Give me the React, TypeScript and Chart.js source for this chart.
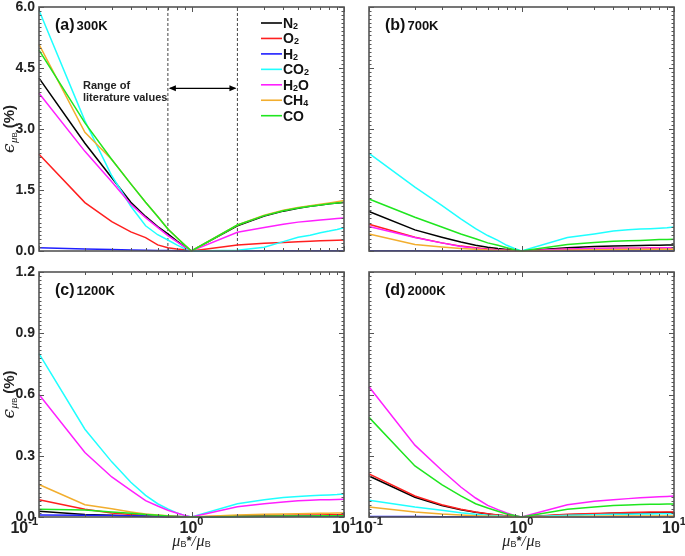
import React, { useEffect, useRef } from "react";
import { Chart, registerables } from "chart.js";

Chart.register(...registerables);

// ---------- data ----------
const X = [0.1, 0.2, 0.3, 0.4, 0.5, 0.6, 0.7, 0.8, 0.9, 1, 2, 3, 4, 5, 6, 7, 8, 9, 10];
const SPECIES = ["N2", "O2", "H2", "CO2", "H2O", "CH4", "CO"];
const COLORS = ["#000000", "#ff1f1f", "#1f1fff", "#1fffff", "#ff1fff", "#f2ae2e", "#1fe61f"];

// 300 K
const N2_300K = [4.25, 2.65, 1.8, 1.2, 0.85, 0.6, 0.42, 0.25, 0.11, 0, 0.62, 0.86, 0.98, 1.05, 1.1, 1.13, 1.16, 1.18, 1.19];
const O2_300K = [2.38, 1.19, 0.72, 0.47, 0.33, 0.15, 0.08, 0.05, 0.03, 0, 0.15, 0.19, 0.21, 0.23, 0.24, 0.25, 0.26, 0.265, 0.27];
const H2_300K = [0.08, 0.05, 0.035, 0.025, 0.02, 0.015, 0.01, 0.007, 0.003, 0, 0.003, 0.004, 0.005, 0.005, 0.005, 0.005, 0.005, 0.005, 0.005];
const CO2_300K = [5.92, 3.2, 1.85, 1.1, 0.62, 0.4, 0.27, 0.15, 0.06, 0, 0.02, 0.09, 0.23, 0.34, 0.39, 0.45, 0.49, 0.53, 0.57];
const H2O_300K = [3.88, 2.45, 1.7, 1.15, 0.82, 0.58, 0.38, 0.23, 0.1, 0, 0.46, 0.58, 0.66, 0.71, 0.74, 0.76, 0.78, 0.8, 0.81];
const CH4_300K = [5.08, 2.92, 2.25, 1.65, 1.2, 0.85, 0.54, 0.33, 0.15, 0, 0.64, 0.88, 1.0, 1.07, 1.11, 1.15, 1.18, 1.21, 1.24];
const CO_300K = [4.94, 3.15, 2.25, 1.65, 1.2, 0.85, 0.54, 0.33, 0.15, 0, 0.64, 0.87, 0.99, 1.06, 1.1, 1.13, 1.16, 1.18, 1.2];

// 700 K
const N2_700K = [0.97, 0.52, 0.34, 0.22, 0.14, 0.09, 0.06, 0.04, 0.02, 0, 0.08, 0.11, 0.12, 0.13, 0.135, 0.14, 0.14, 0.145, 0.15];
const O2_700K = [0.66, 0.34, 0.2, 0.12, 0.08, 0.05, 0.03, 0.02, 0.01, 0, 0.05, 0.06, 0.065, 0.07, 0.07, 0.075, 0.075, 0.08, 0.08];
const H2_700K = [0.006, 0.004, 0.003, 0.002, 0.002, 0.001, 0.001, 0.001, 0, 0, 0.001, 0.001, 0.001, 0.001, 0.001, 0.001, 0.001, 0.001, 0.001];
const CO2_700K = [2.4, 1.57, 1.12, 0.79, 0.55, 0.38, 0.26, 0.14, 0.06, 0, 0.33, 0.42, 0.49, 0.52, 0.54, 0.55, 0.56, 0.57, 0.59];
const H2O_700K = [0.6, 0.33, 0.2, 0.11, 0.07, 0.04, 0.025, 0.015, 0.007, 0, 0.05, 0.06, 0.065, 0.07, 0.07, 0.075, 0.075, 0.078, 0.08];
const CH4_700K = [0.42, 0.16, 0.1, 0.06, 0.04, 0.025, 0.015, 0.01, 0.005, 0, 0.02, 0.03, 0.035, 0.04, 0.04, 0.04, 0.045, 0.045, 0.045];
const CO_700K = [1.28, 0.83, 0.59, 0.42, 0.3, 0.2, 0.14, 0.08, 0.03, 0, 0.16, 0.21, 0.24, 0.25, 0.26, 0.27, 0.28, 0.285, 0.29];

// 1200 K
const N2_1200K = [0.028, 0.012, 0.008, 0.005, 0.003, 0.002, 0.001, 0.001, 0.0005, 0, 0.003, 0.004, 0.004, 0.005, 0.005, 0.005, 0.005, 0.005, 0.005];
const O2_1200K = [0.085, 0.038, 0.02, 0.012, 0.008, 0.005, 0.003, 0.002, 0.001, 0, 0.006, 0.008, 0.009, 0.01, 0.01, 0.01, 0.011, 0.011, 0.011];
const H2_1200K = [0.01, 0.008, 0.007, 0.006, 0.005, 0.004, 0.003, 0.002, 0.001, 0, 0.002, 0.003, 0.003, 0.004, 0.004, 0.004, 0.004, 0.004, 0.004];
const CO2_1200K = [0.8, 0.43, 0.27, 0.17, 0.106, 0.065, 0.04, 0.02, 0.008, 0, 0.065, 0.085, 0.095, 0.1, 0.104, 0.106, 0.108, 0.11, 0.113];
const H2O_1200K = [0.6, 0.316, 0.196, 0.13, 0.08, 0.054, 0.033, 0.02, 0.008, 0, 0.05, 0.065, 0.074, 0.079, 0.082, 0.084, 0.085, 0.086, 0.087];
const CH4_1200K = [0.159, 0.06, 0.04, 0.025, 0.015, 0.01, 0.006, 0.003, 0.001, 0, 0.01, 0.013, 0.015, 0.016, 0.017, 0.018, 0.018, 0.019, 0.019];
const CO_1200K = [0.038, 0.034, 0.025, 0.018, 0.012, 0.008, 0.005, 0.003, 0.001, 0, 0.003, 0.004, 0.005, 0.005, 0.005, 0.006, 0.006, 0.006, 0.006];

// 2000 K
const N2_2000K = [0.201, 0.097, 0.056, 0.035, 0.023, 0.015, 0.009, 0.005, 0.002, 0, 0.011, 0.015, 0.018, 0.019, 0.02, 0.021, 0.021, 0.022, 0.022];
const O2_2000K = [0.211, 0.103, 0.06, 0.038, 0.025, 0.016, 0.01, 0.006, 0.003, 0, 0.013, 0.017, 0.02, 0.022, 0.023, 0.024, 0.024, 0.025, 0.025];
const H2_2000K = [0.002, 0.002, 0.001, 0.001, 0.001, 0.001, 0.001, 0.0005, 0.0005, 0, 0.001, 0.001, 0.001, 0.001, 0.001, 0.001, 0.001, 0.001, 0.001];
const CO2_2000K = [0.082, 0.049, 0.033, 0.021, 0.014, 0.009, 0.006, 0.003, 0.001, 0, 0.008, 0.011, 0.013, 0.014, 0.015, 0.015, 0.016, 0.016, 0.016];
const H2O_2000K = [0.638, 0.352, 0.229, 0.147, 0.093, 0.057, 0.036, 0.02, 0.008, 0, 0.06, 0.077, 0.085, 0.09, 0.094, 0.097, 0.099, 0.101, 0.103];
const CH4_2000K = [0.049, 0.025, 0.015, 0.01, 0.006, 0.004, 0.002, 0.001, 0.0005, 0, 0.003, 0.004, 0.005, 0.005, 0.005, 0.005, 0.005, 0.005, 0.005];
const CO_2000K = [0.488, 0.25, 0.159, 0.103, 0.065, 0.044, 0.028, 0.015, 0.007, 0, 0.038, 0.049, 0.056, 0.059, 0.061, 0.062, 0.063, 0.064, 0.064];

// axes / annotation
const X_TICKS = [0.1, 1, 10];
const X_TICK_EXP = ["-1", "0", "1"];
const Y_MAX_TOP = 6;
const Y_MAX_BOTTOM = 1.2;
const Y_MAJOR_TOP = 1.5;
const Y_MAJOR_BOTTOM = 0.3;
const RANGE_X = [0.7, 2];
const ARROW_Y = 4.0;
const PANEL_TAGS = ["(a)", "(b)", "(c)", "(d)"];
const PANEL_TEMPS = ["300K", "700K", "1200K", "2000K"];

// ---------- layout ----------
const W = 685;
const H = 556;
const SANS = "'Liberation Sans', Arial, Helvetica, sans-serif";

type Panel = {
  area: [number, number, number, number];
  yMax: number;
  yMajor: number;
  series: number[][];
  tag: string;
  temp: string;
  leftLabels: boolean;
  bottomLabels: boolean;
  legend: boolean;
  range: boolean;
};

const PANELS: Panel[] = [
  { area: [39, 7, 344, 251], yMax: Y_MAX_TOP, yMajor: Y_MAJOR_TOP, series: [N2_300K, O2_300K, H2_300K, CO2_300K, H2O_300K, CH4_300K, CO_300K], tag: PANEL_TAGS[0], temp: PANEL_TEMPS[0], leftLabels: true, bottomLabels: false, legend: true, range: true },
  { area: [369, 7, 674, 251], yMax: Y_MAX_TOP, yMajor: Y_MAJOR_TOP, series: [N2_700K, O2_700K, H2_700K, CO2_700K, H2O_700K, CH4_700K, CO_700K], tag: PANEL_TAGS[1], temp: PANEL_TEMPS[1], leftLabels: false, bottomLabels: false, legend: false, range: false },
  { area: [39, 272, 344, 517], yMax: Y_MAX_BOTTOM, yMajor: Y_MAJOR_BOTTOM, series: [N2_1200K, O2_1200K, H2_1200K, CO2_1200K, H2O_1200K, CH4_1200K, CO_1200K], tag: PANEL_TAGS[2], temp: PANEL_TEMPS[2], leftLabels: true, bottomLabels: true, legend: false, range: false },
  { area: [369, 272, 674, 517], yMax: Y_MAX_BOTTOM, yMajor: Y_MAJOR_BOTTOM, series: [N2_2000K, O2_2000K, H2_2000K, CO2_2000K, H2O_2000K, CH4_2000K, CO_2000K], tag: PANEL_TAGS[3], temp: PANEL_TEMPS[3], leftLabels: false, bottomLabels: true, legend: false, range: false },
];

type Part = { text: string; font: string; dy?: number; gap?: number };

function drawRich(ctx: CanvasRenderingContext2D, parts: Part[], x: number, y: number, align: "left" | "center" | "right") {
  let w = 0;
  for (const p of parts) {
    ctx.font = p.font;
    w += ctx.measureText(p.text).width + (p.gap || 0);
  }
  let cx = align === "center" ? x - w / 2 : align === "right" ? x - w : x;
  ctx.textAlign = "left";
  ctx.textBaseline = "alphabetic";
  for (const p of parts) {
    ctx.font = p.font;
    ctx.fillText(p.text, cx, y + (p.dy || 0));
    cx += ctx.measureText(p.text).width + (p.gap || 0);
  }
}

function chemParts(label: string, size: number, subSize: number): Part[] {
  const parts: Part[] = [];
  for (const ch of label) {
    if (/[0-9]/.test(ch)) parts.push({ text: ch, font: `bold ${subSize}px ${SANS}`, dy: 1 });
    else parts.push({ text: ch, font: `bold ${size}px ${SANS}` });
  }
  return parts;
}

function makeDecor(panel: Panel) {
  return {
    id: "decor",
    afterDatasetsDraw(chart: any) {
      const ctx: CanvasRenderingContext2D = chart.ctx;
      const xs = chart.scales.x;
      const ys = chart.scales.y;
      const { left, right, top, bottom } = chart.chartArea;
      ctx.save();

      // range annotation (panel a)
      if (panel.range) {
        const x1 = xs.getPixelForValue(RANGE_X[0]);
        const x2 = xs.getPixelForValue(RANGE_X[1]);
        const ay = ys.getPixelForValue(ARROW_Y);
        ctx.strokeStyle = "#000";
        ctx.fillStyle = "#000";
        ctx.lineWidth = 1.2;
        ctx.beginPath();
        ctx.moveTo(x1 + 2, ay);
        ctx.lineTo(x2 - 2, ay);
        ctx.stroke();
        const hl = 7, hw = 3;
        ctx.beginPath();
        ctx.moveTo(x1 + 1, ay);
        ctx.lineTo(x1 + 1 + hl, ay - hw);
        ctx.lineTo(x1 + 1 + hl, ay + hw);
        ctx.closePath();
        ctx.fill();
        ctx.beginPath();
        ctx.moveTo(x2 - 1, ay);
        ctx.lineTo(x2 - 1 - hl, ay - hw);
        ctx.lineTo(x2 - 1 - hl, ay + hw);
        ctx.closePath();
        ctx.fill();
        ctx.fillStyle = "#222";
        ctx.font = `bold 11px ${SANS}`;
        ctx.textAlign = "left";
        ctx.textBaseline = "alphabetic";
        ctx.fillText("Range of", 83, 89);
        ctx.fillText("literature values", 83, 101);
      }

      // frame
      ctx.strokeStyle = "#555";
      ctx.lineWidth = 1.6;
      ctx.strokeRect(left, top, right - left, bottom - top);

      // ticks
      ctx.lineWidth = 1;
      ctx.strokeStyle = "#555";
      ctx.beginPath();
      for (const dec of [0.1, 1]) {
        for (let k = 1; k <= 10; k++) {
          const v = k * dec;
          const px = Math.round(xs.getPixelForValue(v)) + 0.5;
          const major = k === 1 || k === 10;
          const len = major ? 5 : 3;
          ctx.moveTo(px, bottom);
          ctx.lineTo(px, bottom - len);
          ctx.moveTo(px, top);
          ctx.lineTo(px, top + len);
        }
      }
      const nMinor = 60;
      const perMajor = Math.round(nMinor * panel.yMajor / panel.yMax);
      for (let i = 0; i <= nMinor; i++) {
        const v = (i * panel.yMax) / nMinor;
        const py = Math.round(ys.getPixelForValue(v)) + 0.5;
        const len = i % perMajor === 0 ? 5 : 2.5;
        ctx.moveTo(left, py);
        ctx.lineTo(left + len, py);
        ctx.moveTo(right, py);
        ctx.lineTo(right - len, py);
      }
      ctx.stroke();

      ctx.fillStyle = "#222";
      // y tick labels
      if (panel.leftLabels) {
        ctx.font = `bold 14px ${SANS}`;
        ctx.textAlign = "right";
        ctx.textBaseline = "middle";
        for (let v = 0; v <= panel.yMax + 1e-9; v += panel.yMajor) {
          ctx.fillText(v.toFixed(1), left - 4, ys.getPixelForValue(v));
        }
        // y title (rotated)
        ctx.save();
        ctx.translate(14, (top + bottom) / 2);
        ctx.rotate(-Math.PI / 2);
        drawRich(
          ctx,
          [
            { text: "ϵ", font: `italic 17px 'DejaVu Serif', serif`, gap: 0.5 },
            { text: "μ", font: `italic 11px 'Liberation Serif', serif`, dy: 3 },
            { text: "B", font: `8px ${SANS}`, dy: 3, gap: 4 },
            { text: "(%)", font: `bold 15px ${SANS}` },
          ],
          0,
          0,
          "center"
        );
        ctx.restore();
      }

      // x tick labels + title
      if (panel.bottomLabels) {
        X_TICKS.forEach((v, i) => {
          const px = xs.getPixelForValue(v);
          const parts: Part[] = [
            { text: "10", font: `bold 16px ${SANS}` },
            { text: X_TICK_EXP[i], font: `bold 11px ${SANS}`, dy: -8 },
          ];
          if (i === 0 && panel.leftLabels) drawRich(ctx, parts, left - 1, 533, "right");
          else drawRich(ctx, parts, px, 533, "center");
        });
        drawRich(
          ctx,
          [
            { text: "μ", font: `italic 16px 'Liberation Serif', serif` },
            { text: "B", font: `9px ${SANS}`, dy: 1 },
            { text: "*", font: `bold 13px ${SANS}`, dy: -1 },
            { text: "/", font: `italic 15px 'Liberation Serif', serif`, gap: 1 },
            { text: "μ", font: `italic 16px 'Liberation Serif', serif` },
            { text: "B", font: `9px ${SANS}`, dy: 1 },
          ],
          (left + right) / 2,
          546,
          "center"
        );
      }

      // panel tag
      ctx.fillStyle = "#111";
      drawRich(
        ctx,
        [
          { text: panel.tag, font: `bold 16px ${SANS}`, gap: 2 },
          { text: panel.temp, font: `bold 13px ${SANS}` },
        ],
        left + 16,
        top + 23,
        "left"
      );

      // legend
      if (panel.legend) {
        SPECIES.forEach((name, i) => {
          const ly = 23 + i * 15.45;
          ctx.strokeStyle = COLORS[i];
          ctx.lineWidth = 1.6;
          ctx.beginPath();
          ctx.moveTo(261, ly);
          ctx.lineTo(282, ly);
          ctx.stroke();
          ctx.fillStyle = "#111";
          drawRich(ctx, chemParts(name, 14, 9), 283, ly + 5, "left");
        });
      }
      ctx.restore();
    },
  };
}

function PanelChart({ panel }: { panel: Panel }) {
  const ref = useRef<HTMLCanvasElement | null>(null);
  useEffect(() => {
    if (!ref.current) return;
    const [l, t, r, b] = panel.area;
    const datasets: any[] = [];
    if (panel.range) {
      RANGE_X.forEach((rx) => {
        datasets.push({
          label: "",
          data: [
            { x: rx, y: 0 },
            { x: rx, y: panel.yMax },
          ],
          borderColor: "#444",
          borderWidth: 1,
          borderDash: [3, 2],
          pointRadius: 0,
          clip: false,
          order: 100,
        });
      });
    }
    panel.series.forEach((vals, i) => {
      datasets.push({
        label: SPECIES[i],
        data: X.map((x, j) => ({ x, y: vals[j] })),
        borderColor: COLORS[i],
        borderWidth: 1.5,
        pointRadius: 0,
        tension: 0,
        clip: false,
        // later species are painted on top of earlier ones
        order: SPECIES.length - i,
      });
    });
    const chart = new Chart(ref.current, {
      type: "line",
      data: { datasets },
      options: {
        animation: false,
        responsive: false,
        devicePixelRatio: 1,
        layout: { padding: { left: l, top: t, right: W - r, bottom: H - b } },
        scales: {
          x: { type: "logarithmic", min: 0.1, max: 10, display: false },
          y: { type: "linear", min: 0, max: panel.yMax, display: false },
        },
        plugins: { legend: { display: false }, tooltip: { enabled: false } },
        events: [],
      },
      plugins: [makeDecor(panel)],
    });
    return () => chart.destroy();
  }, [panel]);
  return (
    <canvas
      ref={ref}
      width={W}
      height={H}
      style={{ position: "absolute", left: 0, top: 0, width: W, height: H }}
    />
  );
}

export default function App() {
  useEffect(() => {
    document.body.style.margin = "0";
    document.body.style.background = "#fff";
  }, []);
  return (
    <div style={{ position: "relative", width: W, height: H, background: "#fff" }}>
      {PANELS.map((p, i) => (
        <PanelChart key={i} panel={p} />
      ))}
    </div>
  );
}
